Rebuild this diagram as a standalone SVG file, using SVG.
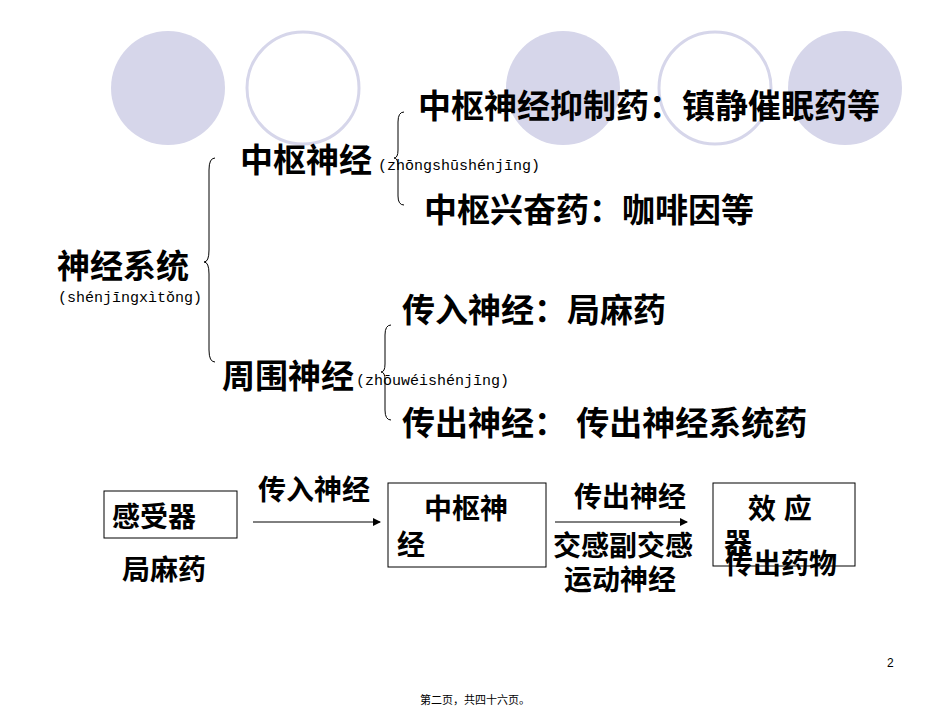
<svg xmlns="http://www.w3.org/2000/svg" width="950" height="713" viewBox="0 0 950 713">
<style>
text{font-family:"Liberation Sans","Noto Sans CJK SC",sans-serif;fill:#000}
.b{font-size:33px;font-weight:bold}
.m{font-size:28px;font-weight:bold}
.p{font-size:15px;font-family:"Liberation Mono","Noto Sans CJK SC",monospace}
.f{fill:#d6d6ea}
.o{fill:#fff;stroke:#d6d6ea;stroke-width:3}
.br{fill:none;stroke:#000;stroke-width:1}
.bx{fill:#fff;stroke:#000;stroke-width:1}
</style>
<defs><marker id="a" markerWidth="8" markerHeight="8" refX="7" refY="4" orient="auto" markerUnits="userSpaceOnUse"><path d="M0,0 L8,4 L0,8 Z" fill="#000"/></marker></defs>
<g id="decor">
<ellipse class="f" cx="168" cy="88" rx="57" ry="57"/>
<ellipse class="o" cx="303" cy="88" rx="56" ry="56"/>
<ellipse class="f" cx="563" cy="88" rx="57" ry="57"/>
<ellipse class="o" cx="715" cy="88" rx="56" ry="56"/>
<ellipse class="f" cx="845" cy="88" rx="57" ry="57"/>
</g>
<g id="n-root"><text class="b" x="57" y="278">神经系统</text><text class="p" x="58" y="302">(shénjīngxìtǒng)</text></g>
<g id="n-cns"><text class="b" x="240" y="172">中枢神经</text><text class="p" x="378" y="170">(zhōngshūshénjīng)</text></g>
<g id="n-pns"><text class="b" x="222" y="388">周围神经</text><text class="p" x="356" y="385">(zhōuwéishénjīng)</text></g>
<g id="n-inh"><text class="b" x="418" y="118">中枢神经抑制药：镇静催眠药等</text></g>
<g id="n-exc"><text class="b" x="424" y="222">中枢兴奋药：咖啡因等</text></g>
<g id="n-aff"><text class="b" x="402" y="322">传入神经：局麻药</text></g>
<g id="n-eff"><text class="b" x="402" y="435">传出神经： 传出神经系统药</text></g>
<g id="n-recv"><rect class="bx" x="104" y="491" width="133" height="47"/><text class="m" x="112" y="527">感受器</text><text class="m" x="122" y="580">局麻药</text></g>
<g id="n-center"><rect class="bx" x="388" y="483" width="158" height="84"/><text class="m" x="424" y="519">中枢神</text><text class="m" x="397" y="555">经</text></g>
<g id="n-effector"><rect class="bx" x="713" y="483" width="142" height="83"/><text class="m" x="748" y="519">效 应</text><text class="m" x="724" y="553">器</text><text class="m" x="725" y="574">传出药物</text></g>
<g id="connectors">
<path class="br" d="M215,158 Q209,158 209,170 L209,250 Q209,262 204,262 Q209,262 209,274 L209,350 Q209,362 215,362"/>
<path class="br" d="M404,112 Q398,112 398,122 L398,150 Q398,158 394,158 Q398,158 398,166 L398,196 Q398,205 404,205"/>
<path class="br" d="M391,325 Q385,325 385,335 L385,364 Q385,372 381,372 Q385,372 385,380 L385,410 Q385,420 391,420"/>
<line x1="253" y1="522" x2="380" y2="522" stroke="#000" marker-end="url(#a)"/>
<line x1="555" y1="522" x2="687" y2="522" stroke="#000" marker-end="url(#a)"/>
<text class="m" x="258" y="500">传入神经</text>
<text class="m" x="574" y="507">传出神经</text>
<text class="m" x="553" y="556">交感副交感</text>
<text class="m" x="564" y="590">运动神经</text>
</g>
<text x="887" y="667" font-size="12">2</text>
<text x="475" y="704" font-size="11" text-anchor="middle">第二页，共四十六页。</text>
</svg>
